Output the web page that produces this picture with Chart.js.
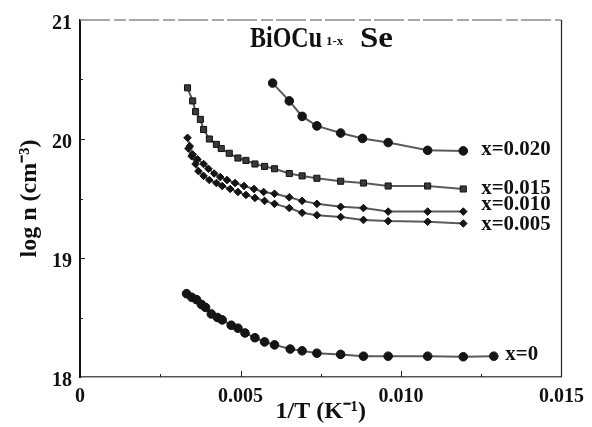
<!DOCTYPE html>
<html>
<head>
<meta charset="utf-8">
<script src="https://cdn.jsdelivr.net/npm/chart.js@4.4.1/dist/chart.umd.min.js"></script>
<style>
  html, body { margin: 0; padding: 0; background: #fff; }
  canvas { display: block; }
</style>
</head>
<body>
<canvas id="c" width="592" height="427"></canvas>
<script>
// Carrier concentration of BiOCu(1-x)Se versus inverse temperature
const seriesNames = ['x=0.020', 'x=0.015', 'x=0.010', 'x=0.005', 'x=0'];

const invT_020 = [0.00600, 0.00652, 0.00692, 0.00738, 0.00812, 0.00880, 0.00960, 0.01083, 0.01194];
const logN_020 = [20.47, 20.32, 20.19, 20.11, 20.05, 20.005, 19.97, 19.905, 19.90];

const invT_015 = [0.00335, 0.00351, 0.00360, 0.00375, 0.00385, 0.00403, 0.00425, 0.00440, 0.00465, 0.00492, 0.00517,
                  0.00545, 0.00575, 0.00606, 0.00652, 0.00692, 0.00738, 0.00812, 0.00883, 0.00960, 0.01083, 0.01194];
const logN_015 = [20.43, 20.32, 20.23, 20.165, 20.08, 20.00, 19.955, 19.92, 19.88, 19.84, 19.82,
                  19.79, 19.77, 19.75, 19.71, 19.69, 19.67, 19.645, 19.63, 19.605, 19.605, 19.58];

const invT_010 = [0.00335, 0.00342, 0.00351, 0.00366, 0.00385, 0.00400, 0.00418, 0.00437, 0.00458, 0.00483, 0.00511,
                  0.00542, 0.00572, 0.00606, 0.00652, 0.00692, 0.00738, 0.00812, 0.00883, 0.00960, 0.01083, 0.01194];
const logN_010 = [20.01, 19.94, 19.87, 19.83, 19.79, 19.75, 19.71, 19.68, 19.655, 19.63, 19.605,
                  19.58, 19.555, 19.54, 19.51, 19.48, 19.455, 19.43, 19.42, 19.39, 19.39, 19.39];

const invT_005 = [0.00338, 0.00348, 0.00360, 0.00369, 0.00385, 0.00403, 0.00425, 0.00443, 0.00468, 0.00492, 0.00517,
                  0.00545, 0.00575, 0.00606, 0.00652, 0.00692, 0.00738, 0.00812, 0.00883, 0.00960, 0.01083, 0.01194];
const logN_005 = [19.92, 19.855, 19.79, 19.73, 19.69, 19.655, 19.63, 19.605, 19.58, 19.555, 19.53,
                  19.505, 19.48, 19.455, 19.42, 19.38, 19.36, 19.345, 19.32, 19.31, 19.305, 19.29];

const invT_000 = [0.00332, 0.00348, 0.00363, 0.00378, 0.00391, 0.00409, 0.00428, 0.00443, 0.00471, 0.00492, 0.00514, 0.00545,
                  0.00575, 0.00606, 0.00655, 0.00692, 0.00738, 0.00812, 0.00883, 0.00960, 0.01083, 0.01194, 0.01289];
const logN_000 = [18.70, 18.67, 18.65, 18.61, 18.585, 18.53, 18.50, 18.48, 18.435, 18.41, 18.37, 18.33,
                  18.295, 18.27, 18.235, 18.22, 18.20, 18.19, 18.175, 18.175, 18.175, 18.17, 18.175];

const xTicks = [0, 0.005, 0.010, 0.015];
const yTicks = [18, 19, 20, 21];

const seriesX = [invT_020, invT_015, invT_010, invT_005, invT_000];
const seriesY = [logN_020, logN_015, logN_010, logN_005, logN_000];

// marker look per series
const markerStyle = [
  { pointStyle: 'circle',  radius: 4.3 },
  { pointStyle: 'rect',    radius: 4.3 },
  { pointStyle: 'rectRot', radius: 3.8 },
  { pointStyle: 'rectRot', radius: 3.8 },
  { pointStyle: 'circle',  radius: 4.3 }
];
// where each series label sits: x in data units, y nudged in pixels from the last point
const labelPlace = [
  { at: 0.0125,  dy: -2 },
  { at: 0.0125,  dy: -1 },
  { at: 0.0125,  dy: -7 },
  { at: 0.0125,  dy: 1 },
  { at: 0.01325, dy: -2 }
];

const datasets = seriesNames.map((name, i) => ({
  label: name,
  data: seriesX[i].map((v, k) => ({ x: v, y: seriesY[i][k] })),
  showLine: true,
  borderColor: '#5a5a5a',
  borderWidth: 2,
  backgroundColor: '#1a1a1a',
  pointBackgroundColor: i === 1 ? '#3a3a3a' : '#151515',
  pointBorderColor: '#111',
  pointBorderWidth: 1,
  pointStyle: markerStyle[i].pointStyle,
  pointRadius: markerStyle[i].radius,
  tension: 0
}));

const serif = '"Liberation Serif", "Times New Roman", serif';

const decor = {
  id: 'decor',
  afterDraw(chart) {
    const { ctx, chartArea: a, scales: { x, y } } = chart;
    ctx.save();

    // upper and right frame lines
    ctx.strokeStyle = '#8c8c8c';
    ctx.lineWidth = 1.5;
    ctx.setLineDash([30, 4, 12, 3]);
    ctx.beginPath(); ctx.moveTo(a.left, a.top); ctx.lineTo(a.right, a.top); ctx.stroke();
    ctx.setLineDash([]);
    ctx.strokeStyle = '#222';
    ctx.lineWidth = 1.2;
    ctx.beginPath(); ctx.moveTo(a.right, a.top); ctx.lineTo(a.right, a.bottom); ctx.stroke();

    // inward tick marks
    ctx.strokeStyle = '#222';
    ctx.lineWidth = 1;
    [0.0025, 0.005, 0.0075, 0.010, 0.0125].forEach(v => {
      const px = Math.round(x.getPixelForValue(v)) + 0.5;
      const len = Math.abs((v / 0.005) - Math.round(v / 0.005)) < 1e-6 ? 6 : 3;
      ctx.beginPath(); ctx.moveTo(px, a.bottom); ctx.lineTo(px, a.bottom - len); ctx.stroke();
    });
    [18.5, 19, 19.5, 20, 20.5].forEach(v => {
      const py = Math.round(y.getPixelForValue(v)) + 0.5;
      const len = Number.isInteger(v) ? 5 : 3;
      ctx.beginPath(); ctx.moveTo(a.left, py); ctx.lineTo(a.left + len, py); ctx.stroke();
    });

    // compound name inside the plot
    ctx.fillStyle = '#111';
    ctx.textBaseline = 'alphabetic';
    ctx.textAlign = 'left';
    const tx = a.left + 170, ty = a.top + 27;
    ctx.save(); ctx.translate(tx, ty); ctx.scale(0.8, 1);
    ctx.font = 'bold 30px ' + serif; ctx.fillText('BiOCu', 0, 0);
    ctx.restore();
    ctx.font = 'bold 13px ' + serif;
    ctx.fillText('1-x', tx + 76, ty - 2);
    ctx.save(); ctx.translate(tx + 110, ty); ctx.scale(1.1, 1);
    ctx.font = 'bold 30px ' + serif; ctx.fillText('Se', 0, 0);
    ctx.restore();

    // series labels at the right
    ctx.textBaseline = 'middle';
    seriesNames.forEach((name, i) => {
      const last = seriesY[i][seriesY[i].length - 1];
      const lx = x.getPixelForValue(labelPlace[i].at);
      const ly = y.getPixelForValue(last) + labelPlace[i].dy;
      ctx.save(); ctx.translate(lx, ly); ctx.scale(0.95, 1);
      ctx.font = 'bold 22px ' + serif;
      ctx.fillText(name, 0, 0);
      ctx.restore();
    });
    ctx.restore();
  }
};

new Chart(document.getElementById('c'), {
  type: 'scatter',
  data: { datasets },
  options: {
    responsive: false,
    animation: false,
    devicePixelRatio: 1,
    layout: { padding: { left: 0, right: 28, top: 18, bottom: 0 } },
    plugins: { legend: { display: false }, tooltip: { enabled: false } },
    scales: {
      x: {
        type: 'linear',
        min: 0, max: 0.015,
        grid: { display: false, drawTicks: false },
        border: { display: true, color: '#555', width: 1.5 },
        afterBuildTicks: s => { s.ticks = xTicks.map(v => ({ value: v })); },
        afterFit: s => { s.height = 50; },
        ticks: {
          autoSkip: false, maxRotation: 0, padding: 8,
          color: '#111',
          font: { family: serif, size: 20, weight: 'bold' },
          callback: v => (v === 0 ? '0' : v.toFixed(3))
        },
        title: {
          display: true, text: '1/T (K\u207B\u00B9)', color: '#111',
          font: { family: serif, size: 24, weight: 'bold' },
          padding: { top: 0, bottom: 1 }
        }
      },
      y: {
        type: 'linear',
        min: 18, max: 21,
        grid: { display: false, drawTicks: false },
        border: { display: true, color: '#111', width: 2 },
        afterBuildTicks: s => { s.ticks = yTicks.map(v => ({ value: v })); },
        afterFit: s => { s.width = 80; },
        ticks: {
          padding: 8, labelOffset: 4,
          color: '#111',
          font: { family: serif, size: 20, weight: 'bold' }
        },
        title: {
          display: true, text: 'log n (cm\u207B\u00B3)', color: '#111',
          font: { family: serif, size: 24, weight: 'bold' },
          padding: { top: 15, bottom: 0 }
        }
      }
    }
  },
  plugins: [decor]
});
</script>
</body>
</html>
